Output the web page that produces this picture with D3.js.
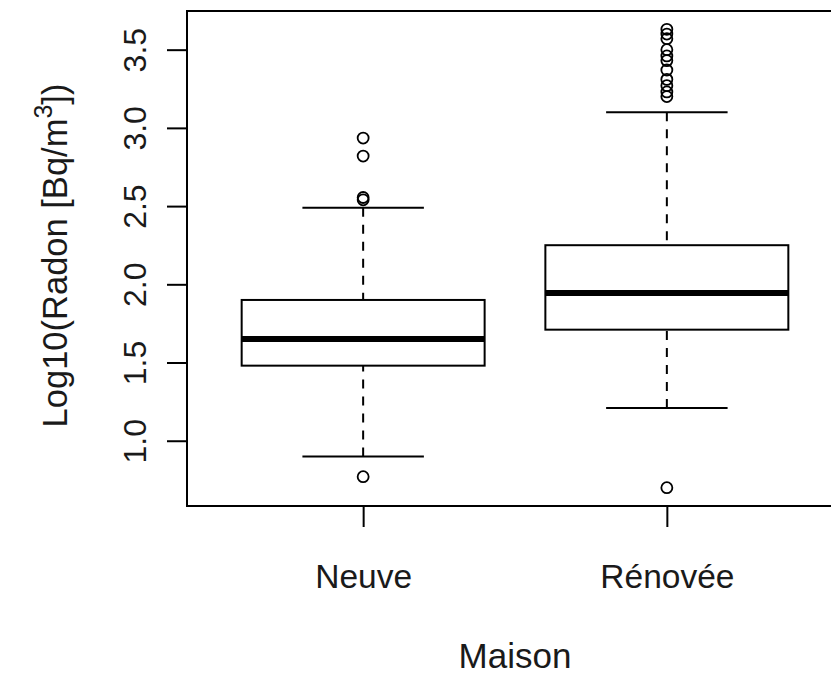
<!DOCTYPE html>
<html>
<head>
<meta charset="utf-8">
<script src="https://cdn.jsdelivr.net/npm/d3@7"></script>
<style>
  html, body { margin: 0; padding: 0; background: #fff; }
  svg { display: block; }
  text { font-family: "Liberation Sans", Arial, Helvetica, sans-serif; fill: #1a1a1a; }
</style>
</head>
<body>
<svg id="chart" width="831" height="676"></svg>
<script>
// ---- data ----
const categories = ["Neuve", "Rénovée"];
const whiskerLow  = [0.90, 1.21];
const q1          = [1.48, 1.71];
const medians     = [1.65, 1.945];
const q3          = [1.90, 2.25];
const whiskerHigh = [2.49, 3.10];
const outliersNeuve   = [2.935, 2.82, 2.555, 2.54, 0.77];
const outliersRenovee = [3.63, 3.60, 3.57, 3.50, 3.46, 3.43, 3.37, 3.31, 3.27, 3.23, 3.20, 0.70];
const yTicks = [1.0, 1.5, 2.0, 2.5, 3.0, 3.5];
const xLabel = "Maison";

// ---- layout ----
const svg = d3.select("#chart");
const plot = { left: 187, top: 11, right: 843, bottom: 506 };

const outliers = [outliersNeuve, outliersRenovee];
const allVals = [].concat(whiskerLow, whiskerHigh, q1, q3, ...outliers);
const vmin = d3.min(allVals), vmax = d3.max(allVals);
const pad = 0.04 * (vmax - vmin);
const y = d3.scaleLinear().domain([vmin - pad, vmax + pad]).range([plot.bottom, plot.top]);
const x = d3.scaleLinear().domain([0.5 - 0.08, categories.length + 0.5 + 0.08]).range([plot.left, plot.right]);

const boxHalf = 0.4, capHalf = 0.2;
const g = svg.append("g");

categories.forEach((c, i) => {
  const cx = x(i + 1);
  const grp = g.append("g");
  grp.append("line").attr("x1", cx).attr("x2", cx)
    .attr("y1", y(whiskerHigh[i])).attr("y2", y(q3[i]))
    .attr("stroke", "#000").attr("stroke-width", 2).attr("stroke-dasharray", "9,8");
  grp.append("line").attr("x1", cx).attr("x2", cx)
    .attr("y1", y(whiskerLow[i])).attr("y2", y(q1[i]))
    .attr("stroke", "#000").attr("stroke-width", 2).attr("stroke-dasharray", "9,8");
  [whiskerHigh[i], whiskerLow[i]].forEach(v => {
    grp.append("line")
      .attr("x1", x(i + 1 - capHalf)).attr("x2", x(i + 1 + capHalf))
      .attr("y1", y(v)).attr("y2", y(v))
      .attr("stroke", "#000").attr("stroke-width", 2);
  });
  grp.append("rect")
    .attr("x", x(i + 1 - boxHalf)).attr("width", x(i + 1 + boxHalf) - x(i + 1 - boxHalf))
    .attr("y", y(q3[i])).attr("height", y(q1[i]) - y(q3[i]))
    .attr("fill", "#fff").attr("stroke", "#000").attr("stroke-width", 2);
  grp.append("line")
    .attr("x1", x(i + 1 - boxHalf)).attr("x2", x(i + 1 + boxHalf))
    .attr("y1", y(medians[i])).attr("y2", y(medians[i]))
    .attr("stroke", "#000").attr("stroke-width", 6);
  grp.selectAll("circle").data(outliers[i]).enter().append("circle")
    .attr("cx", cx).attr("cy", d => y(d)).attr("r", 5.5)
    .attr("fill", "none").attr("stroke", "#000").attr("stroke-width", 1.8);
});

// frame
svg.append("rect")
  .attr("x", plot.left).attr("y", plot.top)
  .attr("width", plot.right - plot.left).attr("height", plot.bottom - plot.top)
  .attr("fill", "none").attr("stroke", "#000").attr("stroke-width", 2);

// y axis
const yAxis = d3.axisLeft(y).tickValues(yTicks).tickSize(20).tickFormat(d3.format(".1f"));
const ya = svg.append("g").attr("transform", `translate(${plot.left},0)`).call(yAxis);
ya.select(".domain").remove();
ya.selectAll(".tick line").attr("stroke", "#000").attr("stroke-width", 2);
ya.selectAll(".tick text")
  .attr("x", 0).attr("dy", null)
  .attr("transform", `translate(-41,0) rotate(-90)`)
  .attr("text-anchor", "middle").attr("font-size", 32)
  .style("font-family", "'Liberation Sans', Arial, sans-serif").attr("fill", "#1a1a1a");

// x axis
const xAxis = d3.axisBottom(x).tickValues(categories.map((c, i) => i + 1))
  .tickSize(21).tickFormat(d => categories[d - 1]);
const xa = svg.append("g").attr("transform", `translate(0,${plot.bottom})`).call(xAxis);
xa.select(".domain").remove();
xa.selectAll(".tick line").attr("stroke", "#000").attr("stroke-width", 2);
xa.selectAll(".tick text")
  .attr("y", 82).attr("dy", null)
  .attr("font-size", 33.5)
  .style("font-family", "'Liberation Sans', Arial, sans-serif").attr("fill", "#1a1a1a");

// axis titles
svg.append("text")
  .attr("x", (x(1) + x(2)) / 2).attr("y", 668)
  .attr("text-anchor", "middle").attr("font-size", 35)
  .text(xLabel);

const yt = svg.append("text")
  .attr("transform", `translate(67,${(plot.top + plot.bottom) / 2 - 3}) rotate(-90)`)
  .attr("text-anchor", "middle").attr("font-size", 34.5);
yt.append("tspan").text("Log10(Radon [Bq/m");
yt.append("tspan").attr("font-size", 25).attr("dy", -15).text("3");
yt.append("tspan").attr("dy", 15).text("])");
</script>
</body>
</html>
